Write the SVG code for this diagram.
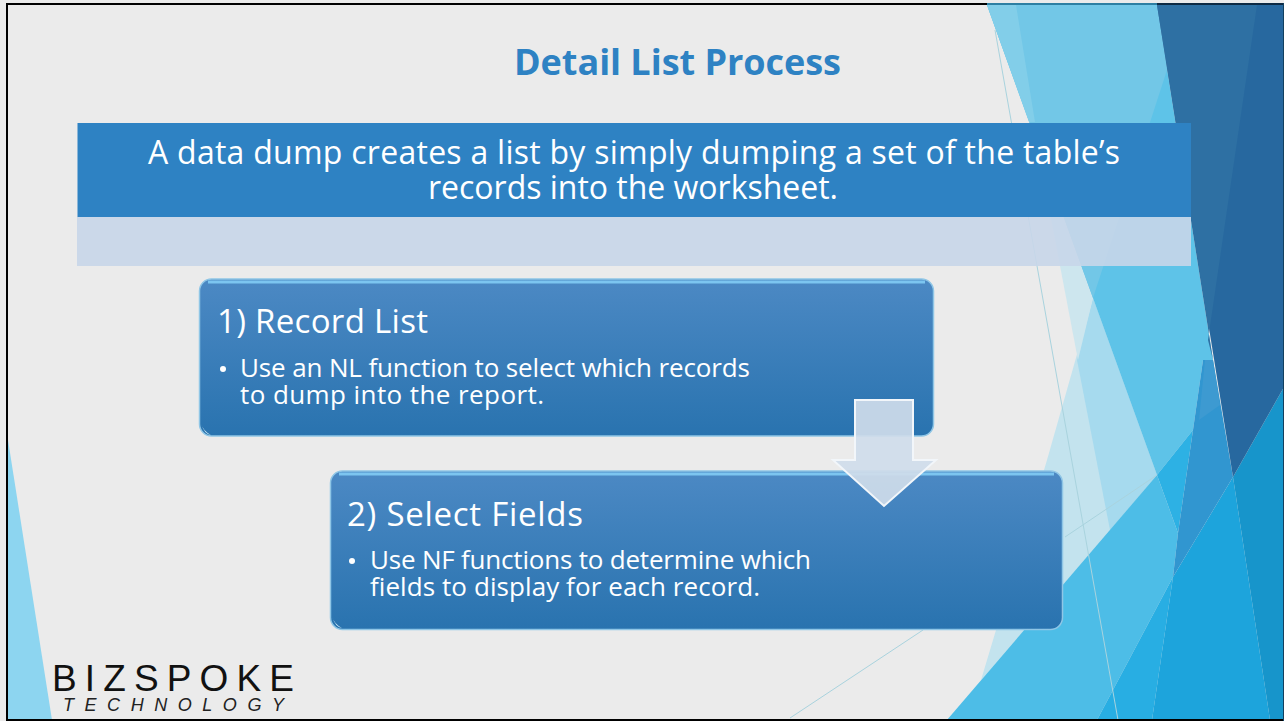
<svg xmlns="http://www.w3.org/2000/svg" width="1284" height="721" viewBox="0 0 1284 721">
<style>
.t{font-family:"Open Sans","Noto Sans","Liberation Sans",sans-serif;fill:#fff}
.h{font-size:32px}.s{font-size:33px}.b{font-size:26px}
.thin{fill:none;stroke:#a9d3de;stroke-width:1}
.box{fill:url(#g);stroke:#8fc6e6;stroke-width:1.5}
.hi{fill:#7cc5f0}
.gl{fill:#cfeaf5}
</style>
<defs>
<linearGradient id="g" x1="0" y1="0" x2="0" y2="1"><stop offset="0" stop-color="#4c89c4"/><stop offset="1" stop-color="#2973af"/></linearGradient>
</defs>
<rect width="1284" height="721" fill="#ebebeb"/>
<g id="background">
<polygon points="8,440 52,720 8,720" fill="#8dd5f0"/>
<polygon points="1093,298 1157,475 947,720 969,720 1047,460" fill="#c3e3ee"/>
<polygon points="1077,360 1093,298 1157,475 1110,530" fill="#a6daee"/>
<polygon points="1036,140 1093,298 1078,360" fill="#cde6ee"/>
<polygon points="987,5 1157,5 1213,360 1203,360 1193,430 1157,475" fill="#5ec3e8"/>
<polygon points="987,5 1157,5 1167,70 1093,298" fill="#72c7e7"/>
<polygon points="987,5 1016,5 1035,122 1029,122" fill="#82cee9"/>
<polygon points="947,720 1157,475 1178,533 1173,577 1097,720" fill="#4dbde7"/>
<polygon points="1157,475 1193,430 1178,533" fill="#2db1e4"/>
<polygon points="1173,577 1097,720 1152,720" fill="#28aee3"/>
<polygon points="1233,477 1270,720 1152,720 1173,577" fill="#1da4dc"/>
<polygon points="1203,360 1213,360 1233,477 1173,577 1178,533 1193,430" fill="#3196d0"/>
<polygon points="1205,360 1213,360 1220,405 1199,420" fill="#3d9ad1"/>
<polygon points="1284,387 1233,477 1270,720 1284,720" fill="#1795cb"/>
<polygon points="1157,5 1284,5 1284,387 1233,477" fill="#27689f"/>
<polygon points="1157,5 1257,5 1208,340 1213,360" fill="#2e70a3"/>
<path class="thin" d="M995,30 L1011,120 L1118,720"/>
<path class="thin" d="M790,718 L923,630 M1065,537 L1157,475"/>
</g>
<g id="frame">
<rect x="6" y="3" width="981" height="2" fill="#000"/>
<rect x="987" y="3" width="170" height="2" fill="#2d7fa3"/>
<rect x="1157" y="3" width="127" height="2" fill="#0d2a44"/>
<rect x="6" y="3" width="2" height="718" fill="#000"/>
<rect x="6" y="719" width="1278" height="2" fill="#000"/>
<rect x="1283" y="3" width="1" height="718" fill="#12405f"/>
</g>
<text id="title" class="t" x="514" y="75" font-size="36" font-weight="700" style="fill:#2e82c3" textLength="327">Detail List Process</text>
<g id="banner">
<rect x="77" y="217" width="1114" height="49" fill="#c8d6e9" opacity="0.9"/>
<rect x="77.500" y="123" width="1113.500" height="94" fill="#2e82c3"/>
<text class="t h" x="148" y="164" textLength="972">A data dump creates a list by simply dumping a set of the table’s</text>
<text class="t h" x="428" y="199" textLength="410">records into the worksheet.</text>
</g>
<g id="connectors"></g>
<g id="node-1">
<rect class="box" x="199.500" y="279" width="734" height="157" rx="12"/>
<rect class="hi" x="208" y="280.500" width="717" height="3"/>
<path class="gl" d="M201,423 Q203,431 211,435 Q204,434 201,423Z"/>
<text class="t s" x="217" y="333" textLength="211">1) Record List</text>
<circle cx="223" cy="369" r="3" fill="#fff"/>
<text class="t b" x="240" y="377" textLength="510">Use an NL function to select which records</text>
<text class="t b" x="240" y="404" textLength="304">to dump into the report.</text>
</g>
<g id="node-2">
<rect class="box" x="330.500" y="471" width="732" height="158.500" rx="12"/>
<rect class="hi" x="339" y="472.500" width="715" height="3"/>
<path class="gl" d="M332,616 Q334,624 342,628 Q335,627 332,616Z"/>
<text class="t s" x="347" y="526" textLength="236">2) Select Fields</text>
<circle cx="352" cy="561" r="3" fill="#fff"/>
<text class="t b" x="370" y="569" textLength="441">Use NF functions to determine which</text>
<text class="t b" x="370" y="596" textLength="390">fields to display for each record.</text>
</g>
<g id="arrow">
<polygon points="855,400 913,400 913,460 936,460 884,506 833,460 855,460" fill="#cfdcea" fill-opacity="0.92" stroke="#f2f6fa" stroke-width="2"/>
</g>
<g id="logo">
<text x="52" y="691" font-family="'Liberation Sans',sans-serif" font-size="37" fill="#111" textLength="242">BIZSPOKE</text>
<text x="63" y="711" font-family="'Liberation Sans',sans-serif" font-size="18" font-style="italic" fill="#222" textLength="221">TECHNOLOGY</text>
</g>
</svg>
